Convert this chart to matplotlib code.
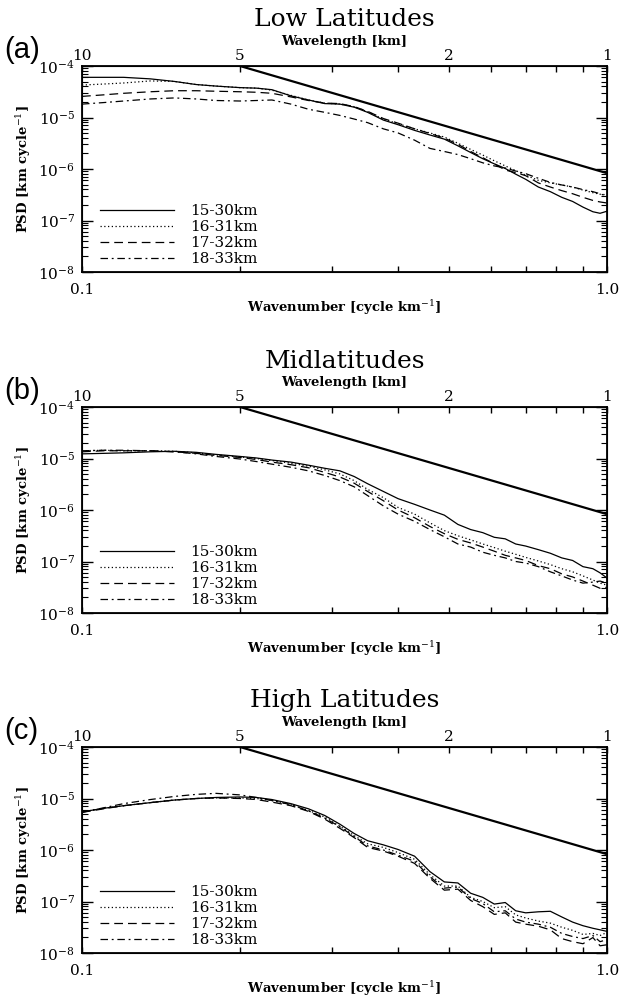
import numpy as np
import matplotlib
matplotlib.use('Agg')
import matplotlib.pyplot as plt
from matplotlib.ticker import FixedLocator, NullFormatter, LogLocator, LogFormatterSciNotation

plt.rcParams['font.family'] = 'DejaVu Serif'
plt.rcParams['mathtext.fontset'] = 'dejavuserif'

# wavenumber grid [cycle/km]
k = [0.10, 0.11, 0.12, 0.135, 0.15, 0.165, 0.18, 0.20, 0.215, 0.23, 0.25, 0.27,
     0.29, 0.31, 0.33, 0.35, 0.375, 0.40, 0.43, 0.46, 0.49, 0.52, 0.55, 0.58,
     0.61, 0.64, 0.67, 0.70, 0.74, 0.78, 0.82, 0.86, 0.90, 0.94, 0.97, 1.00]

labels = ['15-30km', '16-31km', '17-32km', '18-33km']
titles = ['Low Latitudes', 'Midlatitudes', 'High Latitudes']
letters = ['(a)', '(b)', '(c)']

# log10 PSD
low_1530 = [-4.22, -4.22, -4.22, -4.25, -4.30, -4.36, -4.39, -4.42, -4.43, -4.46, -4.58, -4.66,
            -4.73, -4.74, -4.80, -4.90, -5.05, -5.14, -5.25, -5.34, -5.42, -5.55, -5.68, -5.80,
            -5.90, -5.99, -6.10, -6.20, -6.35, -6.44, -6.55, -6.63, -6.74, -6.83, -6.86, -6.82]
low_1631 = [-4.37, -4.35, -4.33, -4.29, -4.30, -4.36, -4.39, -4.42, -4.43, -4.47, -4.57, -4.66,
            -4.72, -4.74, -4.79, -4.89, -5.03, -5.12, -5.22, -5.30, -5.38, -5.50, -5.62, -5.73,
            -5.84, -5.94, -6.03, -6.12, -6.22, -6.27, -6.31, -6.35, -6.41, -6.46, -6.49, -6.50]
low_1732 = [-4.59, -4.56, -4.53, -4.50, -4.48, -4.48, -4.49, -4.50, -4.51, -4.53, -4.60, -4.67,
            -4.72, -4.73, -4.79, -4.88, -5.02, -5.11, -5.22, -5.31, -5.40, -5.52, -5.66, -5.78,
            -5.90, -6.02, -6.07, -6.13, -6.27, -6.35, -6.42, -6.48, -6.55, -6.61, -6.64, -6.66]
low_1833 = [-4.74, -4.71, -4.68, -4.64, -4.62, -4.64, -4.67, -4.68, -4.67, -4.66, -4.74, -4.84,
            -4.90, -4.96, -5.03, -5.10, -5.22, -5.30, -5.44, -5.60, -5.66, -5.72, -5.80, -5.88,
            -5.94, -5.98, -6.04, -6.09, -6.18, -6.26, -6.31, -6.35, -6.40, -6.44, -6.48, -6.53]

mid_1530 = [-4.91, -4.90, -4.89, -4.87, -4.86, -4.88, -4.92, -4.96, -4.99, -5.03, -5.07, -5.13,
            -5.19, -5.24, -5.35, -5.49, -5.64, -5.78, -5.89, -6.00, -6.10, -6.28, -6.38, -6.44,
            -6.53, -6.56, -6.66, -6.70, -6.77, -6.84, -6.93, -6.98, -7.10, -7.14, -7.22, -7.32]
mid_1631 = [-4.85, -4.84, -4.85, -4.85, -4.86, -4.89, -4.93, -4.97, -5.00, -5.04, -5.09, -5.15,
            -5.22, -5.30, -5.43, -5.60, -5.76, -5.95, -6.08, -6.25, -6.40, -6.50, -6.58, -6.66,
            -6.73, -6.80, -6.86, -6.92, -6.99, -7.06, -7.14, -7.20, -7.28, -7.36, -7.42, -7.46]
mid_1732 = [-4.87, -4.85, -4.85, -4.85, -4.87, -4.90, -4.94, -4.98, -5.02, -5.07, -5.12, -5.18,
            -5.27, -5.36, -5.48, -5.64, -5.82, -6.00, -6.15, -6.32, -6.46, -6.57, -6.64, -6.72,
            -6.80, -6.88, -6.93, -6.98, -7.08, -7.14, -7.24, -7.30, -7.38, -7.46, -7.52, -7.50]
mid_1833 = [-4.85, -4.84, -4.84, -4.85, -4.87, -4.91, -4.96, -5.01, -5.06, -5.11, -5.17, -5.24,
            -5.33, -5.43, -5.55, -5.72, -5.92, -6.08, -6.22, -6.38, -6.52, -6.66, -6.72, -6.82,
            -6.88, -6.93, -7.00, -7.03, -7.10, -7.20, -7.28, -7.36, -7.42, -7.40, -7.38, -7.42]

high_1530 = [-5.26, -5.19, -5.14, -5.08, -5.03, -5.00, -4.98, -4.97, -4.98, -5.02, -5.10, -5.20,
             -5.33, -5.50, -5.68, -5.82, -5.90, -5.99, -6.12, -6.42, -6.62, -6.64, -6.84, -6.92,
             -7.05, -7.02, -7.18, -7.22, -7.20, -7.19, -7.30, -7.40, -7.47, -7.52, -7.55, -7.58]
high_1631 = [-5.26, -5.19, -5.14, -5.08, -5.03, -5.00, -4.99, -4.99, -5.00, -5.04, -5.12, -5.23,
             -5.36, -5.54, -5.72, -5.88, -5.95, -6.05, -6.18, -6.48, -6.70, -6.70, -6.92, -7.00,
             -7.12, -7.10, -7.26, -7.32, -7.38, -7.42, -7.50, -7.56, -7.64, -7.62, -7.66, -7.60]
high_1732 = [-5.27, -5.20, -5.14, -5.08, -5.03, -5.00, -4.99, -5.00, -5.02, -5.07, -5.14, -5.25,
             -5.40, -5.58, -5.76, -5.95, -6.02, -6.12, -6.26, -6.55, -6.78, -6.76, -6.98, -7.10,
             -7.25, -7.22, -7.40, -7.44, -7.48, -7.55, -7.72, -7.78, -7.82, -7.70, -7.86, -7.84]
high_1833 = [-5.27, -5.18, -5.10, -5.02, -4.96, -4.92, -4.90, -4.93, -4.98, -5.04, -5.12, -5.24,
             -5.38, -5.55, -5.74, -5.92, -6.00, -6.10, -6.22, -6.52, -6.74, -6.72, -6.94, -7.04,
             -7.20, -7.18, -7.34, -7.40, -7.44, -7.50, -7.62, -7.68, -7.72, -7.66, -7.78, -7.74]

panels = [[low_1530, low_1631, low_1732, low_1833],
          [mid_1530, mid_1631, mid_1732, mid_1833],
          [high_1530, high_1631, high_1732, high_1833]]

# k^-3 reference line
ref_k = [0.2, 1.0]
ref_psd = [1.0e-4, 8.3e-7]

# wavelength labels on top axis
top_k = [0.1, 0.2, 0.5, 1.0]
top_lab = ['10', '5', '2', '1']

styles = [dict(ls='-'), dict(ls=(0, (1, 2))), dict(ls=(0, (7, 4))), dict(ls=(0, (6, 3, 1.5, 3)))]

W, H = 621, 998
fig = plt.figure(figsize=(W / 100, H / 100), dpi=100)

left, right = 82, 607
tops = [66, 407, 747]
ah = 206

for i in range(3):
    t = tops[i]
    ax = fig.add_axes([left / W, 1 - (t + ah) / H, (right - left) / W, ah / H])
    kk = np.array(k)
    for s, st in zip(panels[i], styles):
        ax.plot(kk, np.power(10.0, s), color='black', lw=0.9, **st)
    ax.plot(ref_k, ref_psd, color='black', lw=1.6)

    ax.set_xscale('log')
    ax.set_yscale('log')
    ax.set_xlim(0.1, 1.0)
    ax.set_ylim(1e-8, 1e-4)

    ax.xaxis.set_major_locator(FixedLocator([0.1, 1.0]))
    ax.set_xticklabels(['0.1', '1.0'])
    ax.xaxis.set_minor_locator(FixedLocator([0.2, 0.3, 0.4, 0.5, 0.6, 0.7, 0.8, 0.9]))
    ax.xaxis.set_minor_formatter(NullFormatter())
    ax.yaxis.set_major_locator(LogLocator(base=10, numticks=10))
    ax.yaxis.set_major_formatter(LogFormatterSciNotation())
    ax.yaxis.set_minor_locator(LogLocator(base=10, subs=np.arange(2, 10), numticks=20))
    ax.yaxis.set_minor_formatter(NullFormatter())
    ax.tick_params(axis='x', which='both', direction='in', length=4, width=1, top=False,
                   labelsize=11, pad=8)
    ax.tick_params(axis='y', which='major', direction='in', length=8, width=1, right=True,
                   labelsize=11, pad=5)
    ax.tick_params(axis='y', which='minor', direction='in', length=4, width=0.8, right=True)
    for sp in ax.spines.values():
        sp.set_linewidth(1.3)

    ax.set_xlabel('Wavenumber [cycle km$^{-1}$]', fontsize=9.5, fontweight='bold', labelpad=1)
    ax.set_ylabel('PSD [km cycle$^{-1}$]', fontsize=9.5, fontweight='bold', labelpad=4)

    ax2 = ax.twiny()
    ax2.set_xscale('log')
    ax2.set_xlim(0.1, 1.0)
    ax2.xaxis.set_major_locator(FixedLocator(top_k))
    ax2.set_xticklabels(top_lab)
    ax2.xaxis.set_minor_locator(FixedLocator([0.3, 0.4, 0.6, 0.7, 0.8, 0.9]))
    ax2.xaxis.set_minor_formatter(NullFormatter())
    ax2.tick_params(axis='x', which='both', direction='in', length=4, width=1,
                    labelsize=11, pad=2)
    ax2.set_xlabel('Wavelength [km]', fontsize=9.5, fontweight='bold', labelpad=3)

    ax.legend(labels, loc='upper left', bbox_to_anchor=(0.035, 0.33), frameon=False,
              fontsize=11, handlelength=4.8, handletextpad=1.1, labelspacing=0.14,
              borderpad=0, borderaxespad=0)

    fig.text(0.5 * (left + right) / W, 1 - (t - 46) / H, titles[i], ha='center', va='center',
             fontsize=18)
    fig.text(4 / W, 1 - (t - 16) / H, letters[i], ha='left', va='center', fontsize=21,
             family='Liberation Sans')

fig.savefig('out.png', dpi=100)
